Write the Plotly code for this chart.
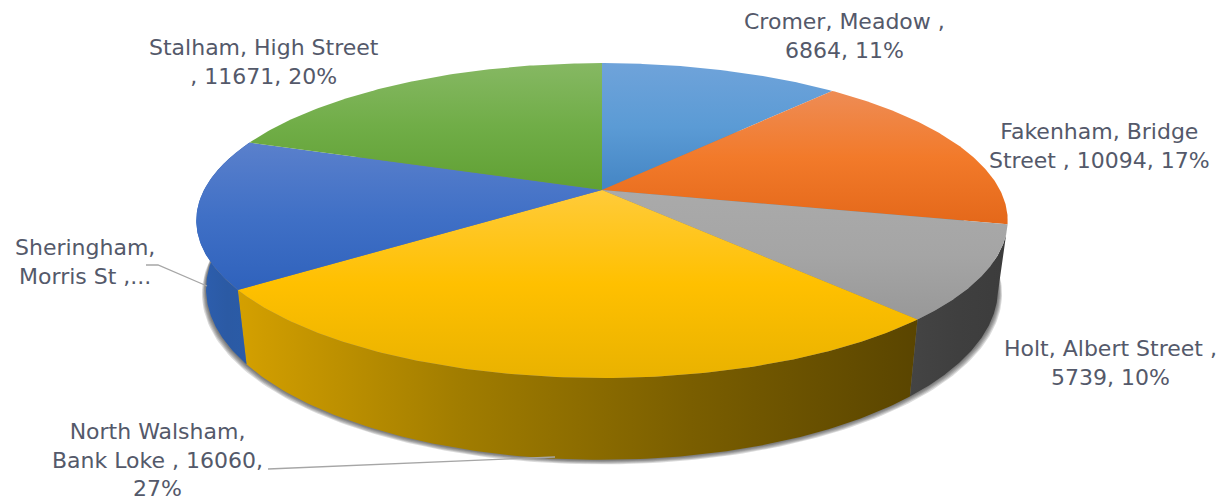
import numpy as np
import plotly.graph_objects as go

# ---- data
towns = ["Cromer, Meadow", "Fakenham, Bridge Street", "Holt, Albert Street",
         "North Walsham, Bank Loke", "Sheringham, Morris St", "Stalham, High Street"]
visits = [6864, 10094, 5739, 16060, 9140, 11671]
label_lines = ["Cromer, Meadow ,<br>6864, 11%",
               "Fakenham, Bridge<br>Street , 10094, 17%",
               "Holt, Albert Street ,<br>5739, 10%",
               "North Walsham,<br>Bank Loke , 16060,<br>27%",
               "Sheringham,<br>Morris St ,...",
               "Stalham, High Street<br>, 11671, 20%"]
label_x = [844, 1099, 1110, 157, 85, 264]
label_y = [36, 146, 363, 460, 262, 62]

top_colors = [("#6FA3DA", "#5B9BD5", "#4485C4"),
              ("#EE8C55", "#F27A2A", "#E4681A"),
              ("#AAAAAA", "#A5A5A5", "#989898"),
              ("#FFCB3A", "#FFC000", "#E9B200"),
              ("#5A80CC", "#4070C6", "#2F62BC"),
              ("#86B863", "#70AD47", "#60A033")]
wall_colors = [None, None,
               ("#444444", "#3F3F3F", "#3C3C3C"),
               ("#D4A000", "#A07C00", "#7A5E00", "#5A4500"),
               ("#2D5FB0", "#2B5AA4", "#2A5CA8"),
               None]

# ---- projection of the tilted disc
CX, CY = 602, 190
A, B, K = 398, 151.5, 0.194
H0, S = 66, 0.976


def top_xy(t):
    u, v = np.sin(t), -np.cos(t)
    d = 1 - K * v
    return CX + A * u / d, CY + B * v / d


def bottom_xy(t, grow=0.0, drop=0.0):
    x, y = top_xy(t)
    v = -np.cos(t)
    return CX + (x - CX) * (S + grow), y + H0 / (1 - K * v) + drop


shares = np.array(visits) / sum(visits)
edges = np.concatenate([[0], np.cumsum(shares)]) * 2 * np.pi

fig = go.Figure()


def poly(x, y, colors, orient):
    c = x if orient == "horizontal" else y
    stops = np.linspace(0, 1, len(colors))
    fig.add_trace(go.Scatter(
        x=x, y=y, mode="lines", fill="toself", line=dict(width=0),
        hoverinfo="skip", showlegend=False,
        fillgradient=dict(type=orient, start=float(c.min()), stop=float(c.max()),
                          colorscale=[[float(s), col] for s, col in zip(stops, colors)])))


# soft shadow under the base
full = np.linspace(0, 2 * np.pi, 361)
for i in range(1, 6):
    sx, sy = bottom_xy(full, grow=0.002 * (6 - i), drop=0.9 * (6 - i))
    fig.add_trace(go.Scatter(x=sx, y=sy, mode="lines", fill="toself", line=dict(width=0),
                             fillcolor="rgba(40,40,40,0.17)", hoverinfo="skip", showlegend=False))

# walls
for i, cols in enumerate(wall_colors):
    if cols is None:
        continue
    t = np.linspace(edges[i], edges[i + 1], 120)
    x1, y1 = top_xy(t)
    x2, y2 = bottom_xy(t)
    poly(np.r_[x1, x2[::-1]], np.r_[y1, y2[::-1]], cols, "horizontal")

# top faces
for i, cols in enumerate(top_colors):
    t = np.linspace(edges[i], edges[i + 1], 120)
    x1, y1 = top_xy(t)
    poly(np.r_[CX, x1, CX], np.r_[CY, y1, CY], cols, "vertical")

for name, text, lx, ly in zip(towns, label_lines, label_x, label_y):
    fig.add_annotation(x=lx, y=ly, text=text, showarrow=False, align="center",
                       xanchor="center", yanchor="middle",
                       font=dict(family="DejaVu Sans", size=22, color="#54596A"))

leaders = [([146, 158, 207], [265, 265, 286]), ([268, 555], [469, 457])]
for lxs, lys in leaders:
    fig.add_trace(go.Scatter(x=lxs, y=lys, mode="lines", line=dict(color="#A6A6A6", width=1.3),
                             hoverinfo="skip", showlegend=False))

fig.update_layout(width=1231, height=500, margin=dict(l=0, r=0, t=0, b=0),
                  paper_bgcolor="white", plot_bgcolor="white", showlegend=False,
                  xaxis=dict(range=[0, 1231], visible=False),
                  yaxis=dict(range=[500, 0], visible=False))
fig.write_html("out.html", config={"displayModeBar": False},
               post_script="document.body.style.margin='0';")
